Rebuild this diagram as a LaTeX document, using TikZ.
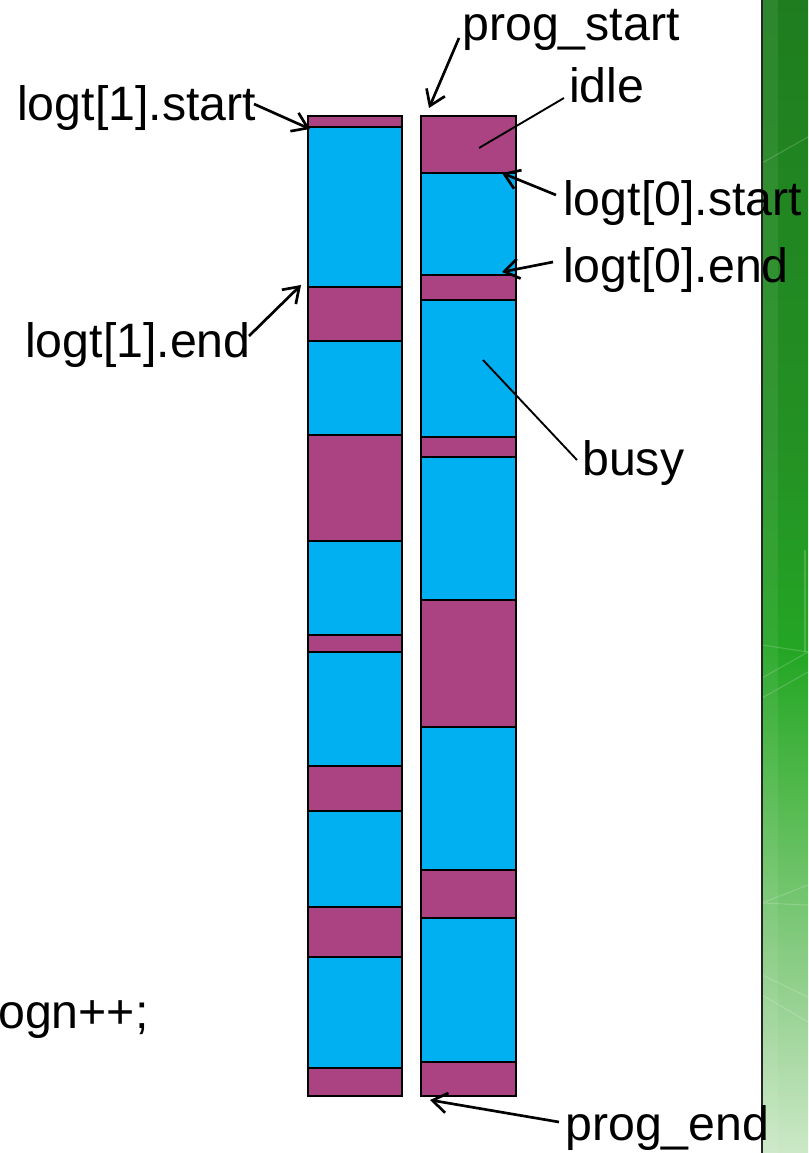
\documentclass[tikz,border=0pt]{standalone}
\usepackage{fontspec}
\setmainfont{Liberation Sans}
\usetikzlibrary{arrows.meta}

\definecolor{idlecol}{RGB}{171,67,131}
\definecolor{busycol}{RGB}{0,176,240}

% vertical green gradient of the side bar (25bp = bottom, 75bp = top)
\pgfdeclareverticalshading{sidebar}{100bp}{%
  rgb(0bp)=(0.80,0.91,0.78);
  rgb(25bp)=(0.80,0.91,0.78);
  rgb(31.6bp)=(0.59,0.82,0.57);
  rgb(40.3bp)=(0.33,0.73,0.31);
  rgb(46.8bp)=(0.14,0.65,0.14);
  rgb(55.5bp)=(0.14,0.57,0.14);
  rgb(75bp)=(0.12,0.49,0.12);
  rgb(100bp)=(0.12,0.49,0.12)}

\tikzset{
  x=0.75pt, y=-0.75pt,
  seg/.style={draw=black, line width=1.7pt},
  lbl/.style={anchor=base west, inner sep=0pt, font=\fontsize{36.2}{43}\selectfont},
  pointer/.style={draw=black, line width=2pt,
    -{Straight Barb[length=11pt,width=15pt]}},
  leader/.style={draw=black, line width=1.4pt},
  streak/.style={draw=white, opacity=0.18, line width=0.8pt}
}

\begin{document}
\begin{tikzpicture}
\useasboundingbox (0,0) rectangle (808,1153);

% side bar
\shade[shading=sidebar] (762,0) rectangle (808,1153);
\fill[white, opacity=0.07] (762,0) rectangle (778,1153);
\draw[streak] (762,163) -- (808,137);
\draw[streak] (762,645) -- (808,652);
\draw[streak] (762,678) -- (808,652);
\draw[streak] (762,698) -- (808,672);
\draw[streak] (805,550) -- (805,652);
\draw[streak] (762,903) -- (808,885);
\draw[streak] (762,903) -- (808,905);
\draw[streak] (762,975) -- (808,997);
\draw[streak] (762,995) -- (808,1022);
\draw[black!85, line width=1.2pt] (762,0) -- (762,1153);

% thread 1 time line
\foreach \a/\b/\c in {116/127/idlecol, 127/287/busycol, 287/341/idlecol,
    341/435/busycol, 435/541/idlecol, 541/635/busycol, 635/652/idlecol,
    652/766/busycol, 766/811/idlecol, 811/907/busycol, 907/957/idlecol,
    957/1068/busycol, 1068/1096/idlecol}
  \draw[seg, fill=\c] (308,\a) rectangle (402,\b);

% thread 0 time line
\foreach \a/\b/\c in {116/173/idlecol, 173/275/busycol, 275/300/idlecol,
    300/437/busycol, 437/457/idlecol, 457/600/busycol, 600/727/idlecol,
    727/870/busycol, 870/918/idlecol, 918/1062/busycol, 1062/1096/idlecol}
  \draw[seg, fill=\c] (421,\a) rectangle (516,\b);

% labels
\node[lbl] (ls1)  at (17,120)  {logt[1].start};
\node[lbl] (ps)   at (462,40)  {prog\_start};
\node[lbl] (idl)  at (569,102) {idle};
\node[lbl] (l0s)  at (563,215) {logt[0].start};
\node[lbl] (l0e)  at (563,282) {logt[0].end};
\node[lbl] (l1e)  at (25,357)  {logt[1].end};
\node[lbl] (bsy)  at (582,475) {busy};
\node[lbl] (pe)   at (565,1140) {prog\_end};
\node[lbl] (code) at (-2,1028) {ogn++;};

% connector end points
\coordinate (ls1-a) at (254,104);  \coordinate (ls1-b) at (310,129);
\coordinate (ps-a)  at (459,38);   \coordinate (ps-b)  at (429,108);
\coordinate (idl-a) at (564,98);   \coordinate (idl-b) at (479,148);
\coordinate (l0s-a) at (556,195);  \coordinate (l0s-b) at (502,173);
\coordinate (l0e-a) at (553,262);  \coordinate (l0e-b) at (502,272);
\coordinate (l1e-a) at (249,336);  \coordinate (l1e-b) at (301,285);
\coordinate (bsy-a) at (577,460);  \coordinate (bsy-b) at (483,360);
\coordinate (pe-a)  at (559,1122); \coordinate (pe-b)  at (430,1100);

% connectors
\draw[pointer] (ls1-a) -- (ls1-b);
\draw[pointer] (ps-a) -- (ps-b);
\draw[leader]  (idl-a) -- (idl-b);
\draw[pointer] (l0s-a) -- (l0s-b);
\draw[pointer] (l0e-a) -- (l0e-b);
\draw[pointer] (l1e-a) -- (l1e-b);
\draw[leader]  (bsy-a) -- (bsy-b);
\draw[pointer] (pe-a) -- (pe-b);
\end{tikzpicture}
\end{document}
